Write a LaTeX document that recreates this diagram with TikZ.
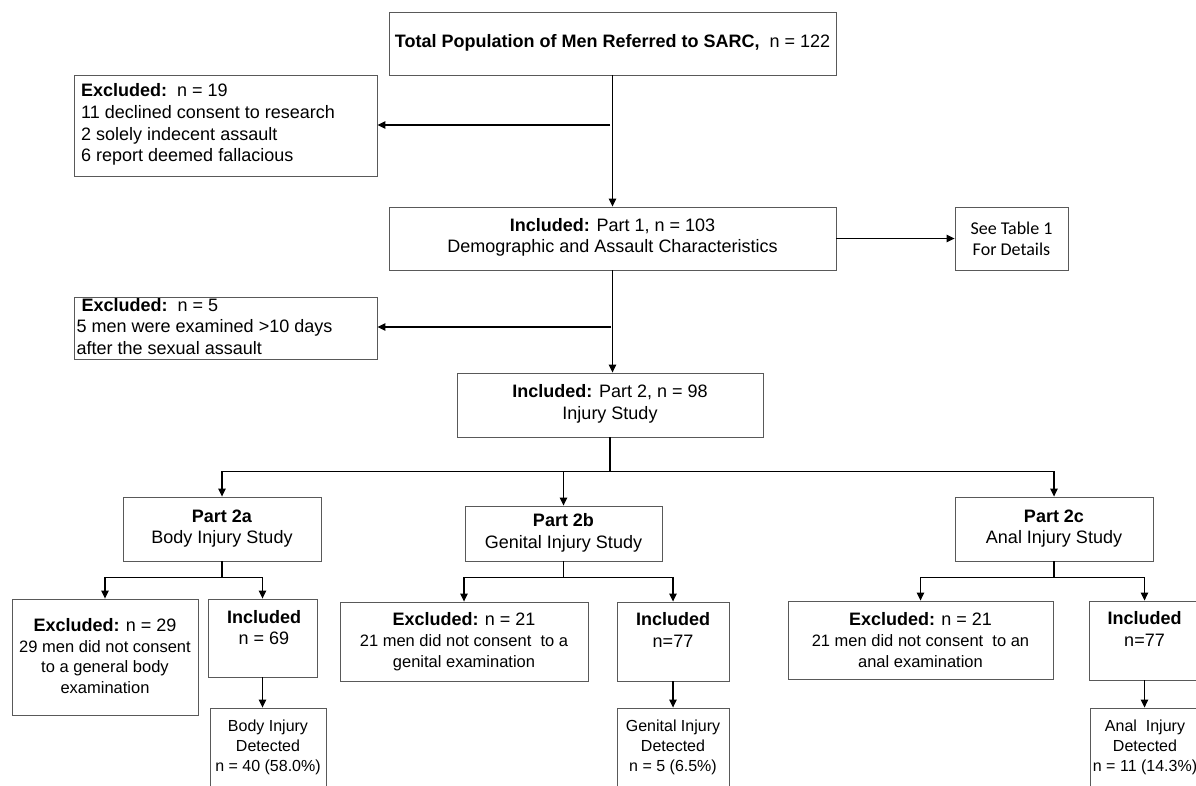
\documentclass[tikz,border=0pt]{standalone}
\usepackage{fontspec}
\setmainfont{Liberation Sans}
\newfontfamily\calibrifont{Carlito}
\usetikzlibrary{arrows.meta}
\tikzset{
  box/.style={draw=black!65, line width=0.9pt, fill=white, inner sep=0pt},
  txt/.style={inner sep=0pt, align=center, font=\fontsize{18}{21.5}\selectfont},
  ltxt/.style={inner sep=0pt, align=left, font=\fontsize{18}{21.7}\selectfont},
  stxt/.style={inner sep=0pt, align=center, font=\fontsize{16.5}{20.8}\selectfont},
  btxt/.style={inner sep=0pt, align=center, font=\fontsize{16}{20.2}\selectfont},
  arr/.style={line width=1.1pt, -{Triangle[length=8pt,width=7.5pt]}},
  ln/.style={line width=1.1pt},
}
\newcommand{\hd}[1]{{\fontsize{18}{21}\selectfont\bfseries #1}}
\begin{document}
\begin{tikzpicture}[x=1pt,y=-1pt]
\useasboundingbox (0,0) rectangle (1196,785);
\fill[white] (0,0) rectangle (1196,785);

% boxes
\node[box, minimum width=447pt, minimum height=63pt] (top) at (612.5,43.5) {};
\node[txt] (ttop) at (612.5,42.5) {\textbf{Total Population of Men Referred to SARC,}\ \ n = 122};

\node[box, minimum width=303pt, minimum height=101pt] (ex1) at (225.5,125.5) {};
\node[ltxt, anchor=west] (tex1) at (81,124.5) {\textbf{Excluded:}\ \ n = 19\\11 declined consent to research\\2 solely indecent assault\\6 report deemed fallacious};

\node[box, minimum width=447pt, minimum height=63pt] (inc1) at (612.5,238.5) {};
\node[txt] (tinc1) at (612.5,237.5) {\textbf{Included:} Part 1, n = 103\\Demographic and Assault Characteristics};

\node[box, minimum width=113pt, minimum height=63pt] (tab) at (1011.5,238.5) {};
\node[txt, font=\calibrifont\fontsize{18}{21}\selectfont] (ttab) at (1011.5,238.5) {See Table 1\\For Details};

\node[box, minimum width=303pt, minimum height=62pt] (ex2) at (225.5,328) {};
\node[ltxt, anchor=west] (tex2) at (76.5,326.5) {\hspace*{5pt}\textbf{Excluded:}\ \ n = 5\\5 men were examined >10 days\\after the sexual assault};

\node[box, minimum width=306pt, minimum height=64pt] (inc2) at (610,405) {};
\node[txt] (tinc2) at (610,404) {\textbf{Included:} Part 2, n = 98\\Injury Study};

\node[box, minimum width=198pt, minimum height=64pt] (p2a) at (222,529) {};
\node[txt] (tp2a) at (222,528.5) {\textbf{Part 2a}\\Body Injury Study};

\node[box, minimum width=197pt, minimum height=55pt] (p2b) at (563.5,533.5) {};
\node[txt] (tp2b) at (563.5,533) {\textbf{Part 2b}\\Genital Injury Study};

\node[box, minimum width=198pt, minimum height=64pt] (p2c) at (1054,529) {};
\node[txt] (tp2c) at (1054,528.5) {\textbf{Part 2c}\\Anal Injury Study};

\node[box, minimum width=186pt, minimum height=116pt] (ex2a) at (105,657) {};
\node[stxt] (tex2a) at (105,656) {\hd{Excluded:} \fontsize{18}{21}\selectfont n = 29\\29 men did not consent\\to a general body\\examination};

\node[box, minimum width=109pt, minimum height=78pt] (in2a) at (262.5,638) {};
\node[txt] (tin2a) at (264,627.5) {\textbf{Included}\\n = 69};

\node[box, minimum width=116pt, minimum height=92pt] (bi2a) at (268,754) {};
\node[btxt] (tbi2a) at (268,747.5) {Body Injury\\Detected\\n = 40 (58.0\%)};

\node[box, minimum width=248pt, minimum height=79pt] (ex2b) at (464,641.5) {};
\node[stxt] (tex2b) at (464,641.5) {\hd{Excluded:} \fontsize{18}{21}\selectfont n = 21\\21 men did not consent\ \ to a\\genital examination};

\node[box, minimum width=112pt, minimum height=79pt] (in2b) at (673,641.5) {};
\node[txt] (tin2b) at (673,630) {\textbf{Included}\\n=77};

\node[box, minimum width=112pt, minimum height=92pt] (gi2b) at (673,754) {};
\node[btxt] (tgi2b) at (673,747.5) {Genital Injury\\Detected\\n = 5 (6.5\%)};

\node[box, minimum width=265pt, minimum height=78pt] (ex2c) at (920.5,640) {};
\node[stxt] (tex2c) at (920.5,640) {\hd{Excluded:} \fontsize{18}{21}\selectfont n = 21\\21 men did not consent\ \ to an\\anal examination};

\node[box, minimum width=111pt, minimum height=79pt] (in2c) at (1144.5,640.5) {};
\node[txt] (tin2c) at (1144.5,629) {\textbf{Included}\\n=77};

\node[box, minimum width=110pt, minimum height=92pt] (ai2c) at (1145,754) {};
\node[btxt] (tai2c) at (1145,747.5) {Anal\ \ Injury\\Detected\\n = 11 (14.3\%)};

% connectors
\draw[arr] (top.south) -- (inc1.north);
\coordinate (j1) at (610,125);
\draw[arr] (j1) -- (j1 -| ex1.east);

\draw[arr] (inc1.east) -- (tab.west);

\draw[arr] (inc1.south) -- (inc1.south |- inc2.north);
\coordinate (j2) at (611,327);
\draw[arr] (j2) -- (j2 -| ex2.east);

\draw[ln] (inc2.south) -- ++(0,34) coordinate (b0);
\draw[arr] (b0) -| (p2a.north);
\draw[arr] (b0) -| (p2c.north);
\draw[arr] (p2b.north |- b0) -- (p2b.north);

\draw[ln] (p2a.south) -- ++(0,16) coordinate (ba);
\draw[arr] (ba) -| (ex2a.north);
\draw[arr] (ba) -| (in2a.north);

\draw[ln] (p2b.south) -- ++(0,16) coordinate (bb);
\draw[arr] (bb) -| (ex2b.north);
\draw[arr] (bb) -| (in2b.north);

\draw[ln] (p2c.south) -- ++(0,16) coordinate (bc);
\draw[arr] (bc) -| (ex2c.north);
\draw[arr] (bc) -| (in2c.north);

\draw[arr] (in2a.south) -- (in2a.south |- bi2a.north);
\draw[arr] (in2b.south) -- (in2b.south |- gi2b.north);
\draw[arr] (in2c.south) -- (in2c.south |- ai2c.north);
\end{tikzpicture}
\end{document}
